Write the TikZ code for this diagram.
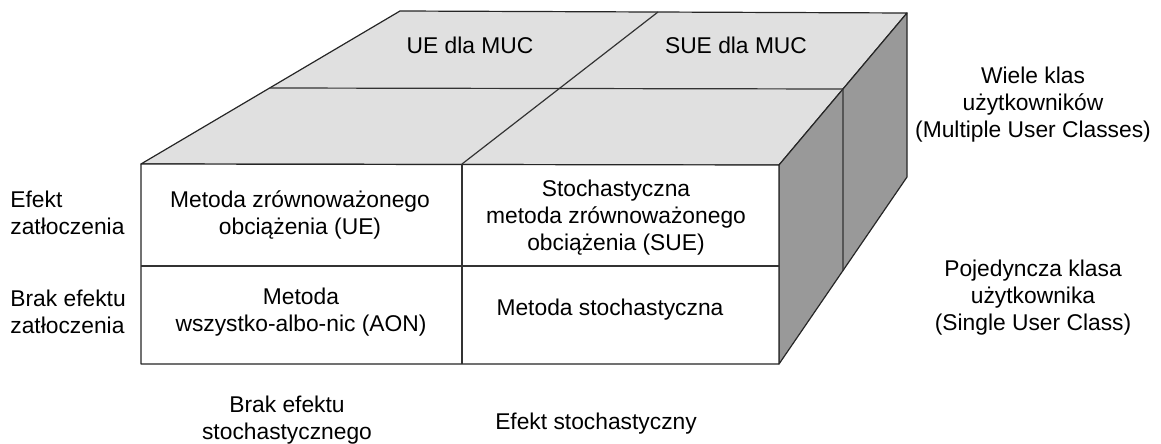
\documentclass[tikz,border=0pt]{standalone}
\usepackage{fontspec}
\setmainfont{Liberation Sans}
\begin{document}
\begin{tikzpicture}[x=0.5pt,y=-0.5pt]
        \tikzstyle{face}=[draw=black!85,line width=0.6pt,line join=round]
        \tikzstyle{split}=[draw=black!80,line width=0.6pt]
        \tikzstyle{txt}=[align=center,inner sep=0pt,font=\fontsize{11.4}{13.5}\selectfont]
        \tikzstyle{sidetxt}=[txt,align=left,anchor=west]
        \useasboundingbox (0,0) rectangle (1161,444);
       \begin{scope}
         % corners of the block
         \coordinate (ftl) at (141,164);
         \coordinate (ftr) at (779,165);
         \coordinate (fbl) at (141,364);
         \coordinate (fbr) at (779,364);
         \coordinate (btl) at (400,11);
         \coordinate (btr) at (907,13);
         \coordinate (bbr) at (907,177);
         \coordinate (ftm) at (462,164);
         \coordinate (fbm) at (462,364);
         \coordinate (btm) at (658,12);
         \coordinate (fml) at (141,266);
         \coordinate (fmr) at (779,266);
         \coordinate (tml) at (270,88);
         \coordinate (tmr) at (843,89);
         \coordinate (smb) at (843,271);
         \path[face,fill=black!12] (ftl) -- (btl) -- (btr) -- (ftr) -- cycle;
         \path[face,fill=black!40] (ftr) -- (btr) -- (bbr) -- (fbr) -- cycle;
         \path[face,fill=white] (ftl) -- (ftr) -- (fbr) -- (fbl) -- cycle;
         \path[split] (tml) -- (tmr) -- (smb);
         \path[split] (ftm) -- (btm);
         \path[split] (ftm) -- (fbm);
         \path[split] (fml) -- (fmr);
        \end{scope}
         \node [txt] (uemuc) at (470,45) {UE dla MUC};
         \node [txt] (suemuc) at (736,45) {SUE dla MUC};
         \node [txt] (ue) at (300,215) {Metoda zrównoważonego\\obciążenia (UE)};
         \node [txt] (sue) at (616,218) {Stochastyczna\\metoda zrównoważonego\\obciążenia (SUE)};
         \node [txt] (aon) at (301,312) {Metoda\\wszystko-albo-nic (AON)};
         \node [txt] (stoch) at (610,310) {Metoda stochastyczna};
         \node [sidetxt] (congest) at (10,213) {Efekt\\zatłoczenia};
         \node [sidetxt] (nocongest) at (10,312) {Brak efektu\\zatłoczenia};
         \node [txt] (muc) at (1033,105) {Wiele klas\\użytkowników\\(Multiple User Classes)};
         \node [txt] (suc) at (1033,298) {Pojedyncza klasa\\użytkownika\\(Single User Class)};
         \node [txt] (nostoch) at (287,420) {Brak efektu\\stochastycznego};
         \node [txt] (stochfx) at (596,424) {Efekt stochastyczny};
      \end{tikzpicture}
\end{document}
